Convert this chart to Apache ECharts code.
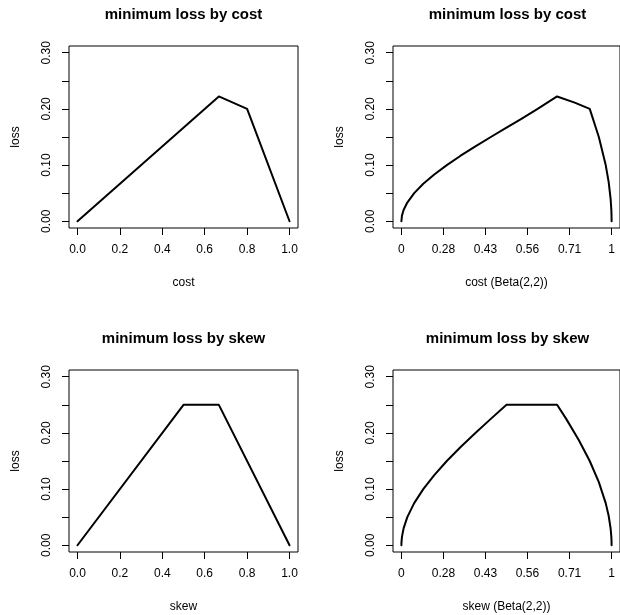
<!DOCTYPE html>
<html>
<head>
<meta charset="utf-8">
<script src="https://cdn.jsdelivr.net/npm/echarts@6/dist/echarts.min.js"></script>
<style>
html,body{margin:0;padding:0;background:#fff;}
#chart{width:620px;height:615px;}
</style>
</head>
<body>
<div id="chart"></div>
<script>
// ---- data ----
// panel 1: minimum loss by cost (linear cost axis)
const costX = [0, 0.6667, 0.8, 1];
const costLoss = [0, 0.2222, 0.2, 0];
// panel 2: minimum loss by cost, x placed on Beta(2,2) quantile scale (axis position)
const betaCostPos = [0, 0.0003, 0.0026, 0.0104, 0.028, 0.0608, 0.104, 0.1563, 0.216, 0.2818, 0.352, 0.4253, 0.5, 0.5748, 0.648, 0.7407, 0.8246, 0.896, 0.9393, 0.972, 0.986, 0.9953, 0.9988, 0.9997, 1];
const betaCostLoss = [0, 0.0033, 0.01, 0.02, 0.0333, 0.05, 0.0667, 0.0833, 0.1, 0.1167, 0.1333, 0.15, 0.1667, 0.1833, 0.2, 0.2222, 0.2111, 0.2, 0.15, 0.1, 0.07, 0.04, 0.02, 0.01, 0];
// panel 3: minimum loss by skew
const skewX = [0, 0.5, 0.6667, 1];
const skewLoss = [0, 0.25, 0.25, 0];
// panel 4: minimum loss by skew, Beta(2,2) quantile scale
const betaSkewPos = [0, 0.0003, 0.0026, 0.0104, 0.028, 0.0608, 0.104, 0.1563, 0.216, 0.2818, 0.352, 0.4253, 0.5, 0.7407, 0.784, 0.8438, 0.896, 0.9393, 0.972, 0.986, 0.9953, 0.9988, 0.9997, 1];
const betaSkewLoss = [0, 0.005, 0.015, 0.03, 0.05, 0.075, 0.1, 0.125, 0.15, 0.175, 0.2, 0.225, 0.25, 0.25, 0.225, 0.1875, 0.15, 0.1125, 0.075, 0.0525, 0.03, 0.015, 0.0075, 0];

// ticks
const xTicks = [0, 0.2, 0.4, 0.6, 0.8, 1.0];
const betaTickLabels = ['0', '0.28', '0.43', '0.56', '0.71', '1'];
const yTicks = [0, 0.05, 0.1, 0.15, 0.2, 0.25, 0.3];
const yLabelTicks = [0, 0.1, 0.2, 0.3];

const titles = ['minimum loss by cost', 'minimum loss by cost', 'minimum loss by skew', 'minimum loss by skew'];
const xNames = ['cost', 'cost (Beta(2,2))', 'skew', 'skew (Beta(2,2))'];
const yName = 'loss';

// ---- layout ----
const FONT = '"Liberation Sans", Arial, Helvetica, sans-serif';
const panels = [
  {left: 69, top: 46},
  {left: 393, top: 46},
  {left: 69, top: 370},
  {left: 393, top: 370}
];
const W = 229, H = 182;

const pairs = (xs, ys) => xs.map((x, i) => [x, ys[i]]);
const seriesData = [
  pairs(costX, costLoss),
  pairs(betaCostPos, betaCostLoss),
  pairs(skewX, skewLoss),
  pairs(betaSkewPos, betaSkewLoss)
];

const grid = [], xAxis = [], yAxis = [], series = [], graphic = [];
panels.forEach((p, i) => {
  grid.push({
    left: p.left, top: p.top, width: W, height: H,
    show: true, borderColor: '#000', borderWidth: 1, backgroundColor: 'transparent',
    containLabel: false
  });
  const isBeta = (i % 2 === 1);
  xAxis.push({
    type: 'value', gridIndex: i, min: -0.04, max: 1.04, position: 'bottom',
    axisLine: {show: false, onZero: false},
    splitLine: {show: false},
    axisTick: {show: true, inside: false, length: 7, customValues: xTicks, lineStyle: {color: '#000', width: 1}},
    axisLabel: {
      show: true, customValues: xTicks, margin: 16, color: '#000', fontSize: 12, fontFamily: FONT,
      formatter: v => {
        const k = xTicks.findIndex(t => Math.abs(t - v) < 1e-9);
        if (isBeta) return k >= 0 ? betaTickLabels[k] : '';
        return v.toFixed(1);
      }
    },
    name: xNames[i], nameLocation: 'middle', nameGap: 49,
    nameTextStyle: {color: '#000', fontSize: 12, fontFamily: FONT}
  });
  yAxis.push({
    type: 'value', gridIndex: i, min: -0.012, max: 0.312, position: 'left',
    axisLine: {show: false, onZero: false},
    splitLine: {show: false},
    axisTick: {show: true, inside: false, length: 7, customValues: yTicks, lineStyle: {color: '#000', width: 1}},
    axisLabel: {
      show: true, customValues: yLabelTicks, rotate: 90, margin: 16, color: '#000', fontSize: 12, fontFamily: FONT,
      formatter: v => v.toFixed(2)
    },
    name: yName, nameLocation: 'middle', nameGap: 47, nameRotate: 90,
    nameTextStyle: {color: '#000', fontSize: 12, fontFamily: FONT}
  });
  series.push({
    type: 'line', xAxisIndex: i, yAxisIndex: i,
    data: seriesData[i], showSymbol: false, symbol: 'none', smooth: false,
    lineStyle: {color: '#000', width: 2, cap: 'round', join: 'round'},
    silent: true
  });
  graphic.push({
    type: 'text', x: p.left + W / 2, y: p.top - 31,
    style: {text: titles[i], align: 'center', verticalAlign: 'middle', fill: '#000',
            font: 'bold 15px ' + FONT}
  });
});

const chart = echarts.init(document.getElementById('chart'), null, {renderer: 'canvas'});
chart.setOption({
  animation: false,
  backgroundColor: '#fff',
  grid, xAxis, yAxis, series, graphic
});
</script>
</body>
</html>
